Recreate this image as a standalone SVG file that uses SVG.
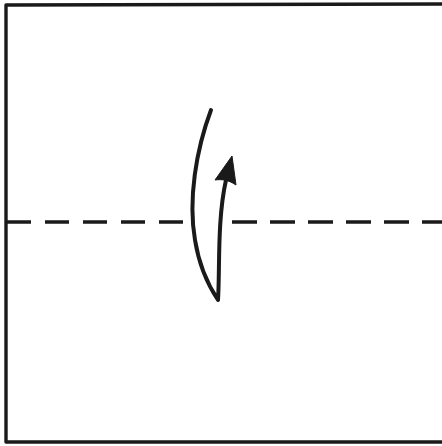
<svg xmlns="http://www.w3.org/2000/svg" width="442" height="446" viewBox="0 0 442 446">
<style>
.line{fill:none;stroke:#1a1a1a;stroke-linecap:round;stroke-linejoin:round}
</style>
<rect width="442" height="446" fill="#fff"/>
<g id="paper">
<path class="line" d="M6,5 L446,4 M6,5 L6,442 L446,442" stroke-width="3.4"/>
</g>
<g id="fold-line">
<path class="line" d="M7,222 L187,222" stroke-width="3.4" stroke-dasharray="24,14" style="stroke-linecap:butt"/>
<path class="line" d="M232,222 L442,222" stroke-width="3.4" stroke-dasharray="25,13" style="stroke-linecap:butt"/>
</g>
<g id="connectors">
<path class="line" d="M211,110 C196,150 188,200 195,240 C199,265 208,285 218,300 C220,270 217,220 226,180" stroke-width="4"/>
<path d="M232,156 L236,185 C229,180 222,179 215,180 Z" fill="#1a1a1a" stroke="#1a1a1a" stroke-width="1" stroke-linejoin="round"/>
</g>
</svg>
